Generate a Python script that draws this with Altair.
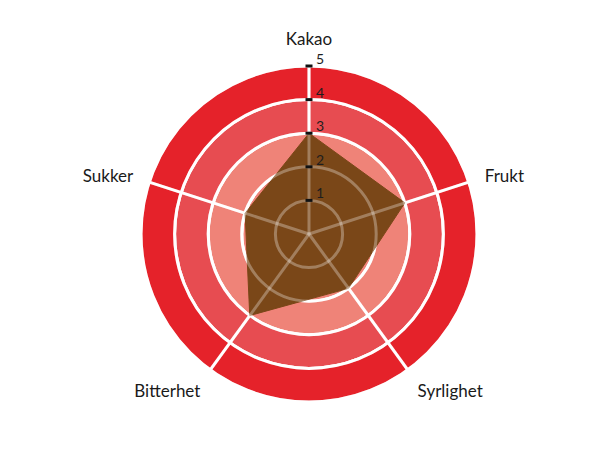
import math
import altair as alt
import pandas as pd

# ---- data ----
axes = ["Kakao", "Frukt", "Syrlighet", "Bitterhet", "Sukker"]
values = [3, 3, 2, 3, 2]
levels = [1, 2, 3, 4, 5]
level_labels = ["1", "2", "3", "4", "5"]
ring_colors = ["#ef8378", "#ef8378", "#ef8378", "#e74c51", "#e5222a"]

# ---- layout / style ----
W, H = 594, 430
CX, CY = 301, 226
UNIT = 33.6
RMAX = 5
LABEL_R = 5.5
BROWN = "#7a4718"
FONT = "Lato"

xs = alt.Scale(domain=[-RMAX, RMAX], range=[CX - RMAX * UNIT, CX + RMAX * UNIT], nice=False, zero=False)
ys = alt.Scale(domain=[-RMAX, RMAX], range=[CY + RMAX * UNIT, CY - RMAX * UNIT], nice=False, zero=False)
rs = alt.Scale(type="linear", domain=[0, RMAX], range=[0, RMAX * UNIT], zero=True, nice=False)
# point size is an area: diameter^2, so a pow-2 scale gives diameter proportional to level
ss = alt.Scale(type="pow", exponent=2, domain=[0, RMAX], range=[0, (2 * RMAX * UNIT) ** 2], zero=True, nice=False)

n = len(axes)
axis_df = pd.DataFrame({"axis": axes, "value": values, "idx": list(range(n))})
ring_df = pd.DataFrame({"inner": [0] + levels[:-1], "outer": levels, "color": ring_colors})
level_df = pd.DataFrame({"level": levels, "label": level_labels})

ANG = f"datum.idx * 2 * PI / {n}"


def X(f):
    return alt.X(f, type="quantitative", scale=xs, axis=None)


def Y(f):
    return alt.Y(f, type="quantitative", scale=ys, axis=None)


rings = alt.Chart(ring_df).mark_arc(
    theta=0, theta2=2 * math.pi, stroke="white", strokeWidth=3
).encode(
    x=alt.value(CX), y=alt.value(CY),
    radius=alt.Radius("outer:Q", scale=rs),
    radius2="inner:Q",
    fill=alt.Fill("color:N", scale=None),
)

spoke_base = alt.Chart(axis_df).transform_calculate(
    ang=ANG, x0="0", y0="0",
    x1=f"{RMAX} * sin(datum.ang)", y1=f"{RMAX} * cos(datum.ang)",
)
spokes = spoke_base.mark_rule(color="white", strokeWidth=3).encode(
    x=X("x0"), y=Y("y0"), x2="x1:Q", y2="y1:Q"
)

polygon = alt.Chart(axis_df).transform_calculate(
    ang=ANG, px="datum.value * sin(datum.ang)", py="datum.value * cos(datum.ang)"
).mark_line(
    interpolate="linear-closed", fill=BROWN, color=BROWN, strokeWidth=1
).encode(x=X("px"), y=Y("py"), order=alt.Order("idx:Q"))

lvl_base = alt.Chart(level_df).transform_calculate(x0="0", y0="0")

grid_circles = lvl_base.mark_point(
    shape="circle", filled=False, stroke="white", strokeWidth=3, opacity=0.3
).encode(
    x=X("x0"), y=Y("y0"),
    size=alt.Size("level:Q", scale=ss, legend=None),
)

grid_spokes = spoke_base.mark_rule(color="white", strokeWidth=3, opacity=0.3).encode(
    x=X("x0"), y=Y("y0"), x2="x1:Q", y2="y1:Q"
)

ticks = lvl_base.mark_tick(
    orient="horizontal", size=7, thickness=3, color="#111111", opacity=1
).encode(x=X("x0"), y=Y("level"))

tick_text = lvl_base.mark_text(
    align="left", baseline="alphabetic", dx=7, dy=-2, fontSize=14, font=FONT, color="#1e1e1e"
).encode(x=X("x0"), y=Y("level"), text="label:N")

label_layers = []
for i in range(n):
    a = i * 2 * math.pi / n
    s, c = math.sin(a), math.cos(a)
    align = "left" if s > 0.3 else ("right" if s < -0.3 else "center")
    if c > 0.9:
        baseline, dy = "alphabetic", -4
    elif c < -0.3:
        baseline, dy = "top", 0
    else:
        baseline, dy = "middle", 0
    lay = alt.Chart(axis_df).transform_filter(f"datum.idx == {i}").transform_calculate(
        ang=ANG,
        lx=f"{LABEL_R} * sin(datum.ang)", ly=f"{LABEL_R} * cos(datum.ang)",
    ).mark_text(
        align=align, baseline=baseline, dy=dy, fontSize=17, font=FONT, color="#1a1a1a"
    ).encode(x=X("lx"), y=Y("ly"), text="axis:N")
    label_layers.append(lay)

chart = alt.layer(
    rings, spokes, polygon, grid_circles, grid_spokes, ticks, tick_text, *label_layers
).properties(
    width=W, height=H, padding=0, autosize=alt.AutoSizeParams(type="none")
).configure_view(stroke=None)

chart.save("out.html", embed_options={"renderer": "svg", "actions": False})
